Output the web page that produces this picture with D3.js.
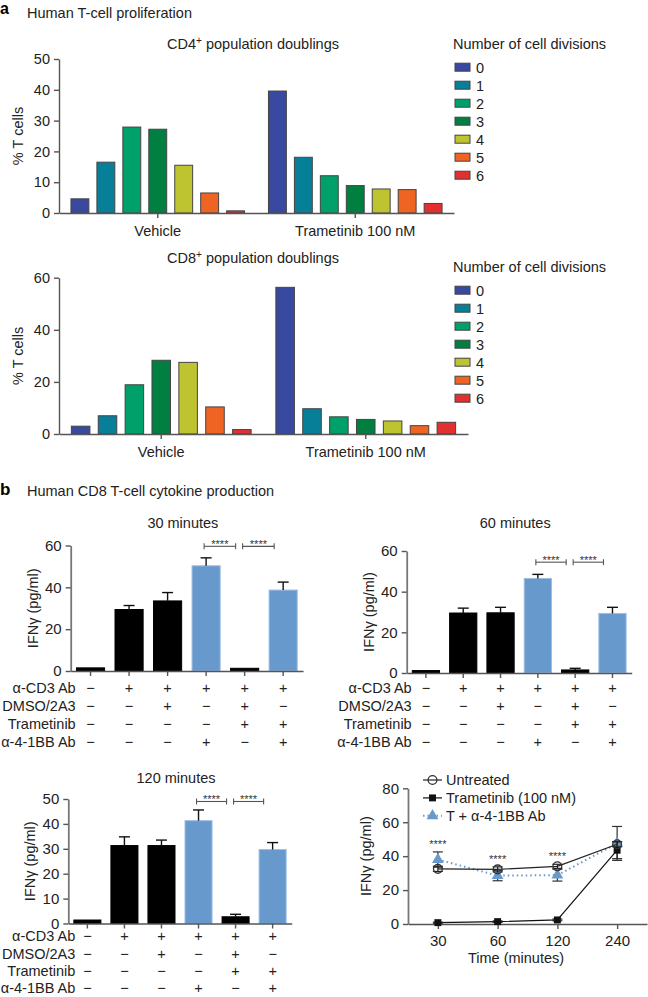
<!DOCTYPE html>
<html>
<head>
<meta charset="utf-8">
<script src="https://cdn.jsdelivr.net/npm/d3@7"></script>
<style>
body{margin:0;background:#fff}
svg{display:block;font-family:"Liberation Sans",Arial,sans-serif}
</style>
</head>
<body>
<svg id="fig" width="648" height="997"></svg>
<script>
// ---- panel a data ----
const divisions = ["0","1","2","3","4","5","6"]
const divColors = ["#3a49a0","#087f99","#00a06b","#007f40","#bec430","#ef6423","#e1302f"]
const treatments = ["Vehicle","Trametinib 100 nM"]
const cd4Vehicle = [4.6,16.5,27.9,27.2,15.5,6.5,0.7]
const cd4Trametinib = [39.6,18.1,12.1,8.9,7.8,7.6,3.1]
const cd8Vehicle = [3.0,7.0,18.9,28.3,27.5,10.4,1.7]
const cd8Trametinib = [56.3,9.7,6.6,5.6,5.0,3.2,4.5]

// ---- panel b data ----
const condRows = ["α-CD3 Ab","DMSO/2A3","Trametinib","α-4-1BB Ab"]
const condSigns = [
  ["−","+","+","+","+","+"],
  ["−","−","+","−","+","−"],
  ["−","−","−","−","+","+"],
  ["−","−","−","+","−","+"]
]
const barKind = ["k","k","k","b","k","b"]
const ifn30 = [1.5,29.4,33.5,50.3,1.3,38.7]
const ifn30Err = [0,1.9,4.0,3.8,0,3.8]
const ifn60 = [1.2,29.5,29.6,46.5,1.5,29.3]
const ifn60Err = [0,2.4,2.7,2.0,0.8,3.0]
const ifn120 = [1.4,31.3,31.3,41.3,2.7,29.7]
const ifn120Err = [0,3.5,2.2,4.3,1.0,2.8]

const timePoints = ["30","60","120","240"]
const untreated = [32.5,32.2,34.0,47.0]
const untreatedErr = [1.5,1.5,1.2,1.5]
const trametinibLine = [0.8,1.4,2.4,43.5]
const trametinibErr = [0.3,0.4,0.5,5.0]
const combo = [38.0,28.5,28.8,47.5]
const comboErr = [4.5,3.0,3.5,10.0]

const blue = "#6899cd"
const axisCol = "#555"
const svg = d3.select("#fig")

function styleAxis(g, fs){
  g.attr("font-family", null).attr("font-size", fs)
  g.select(".domain").attr("stroke", axisCol).attr("stroke-width", 1.4)
  g.selectAll(".tick line").attr("stroke", axisCol).attr("stroke-width", 1.4)
  g.selectAll(".tick text").attr("fill", "#222")
}

function titleSup(x, y, pre, sup, post, fs){
  const t = svg.append("text").attr("x", x).attr("y", y).attr("text-anchor","middle")
    .attr("font-size", fs).attr("fill","#222")
  t.append("tspan").text(pre)
  t.append("tspan").attr("dy", -5).attr("font-size", fs*0.7).text(sup)
  t.append("tspan").attr("dy", 5).text(post)
}

// ---------- proliferation charts ----------
function drawProliferation(o){
  const y = d3.scaleLinear().domain([0, o.ymax]).range([o.y0, o.yTop])
  const x = d3.scaleBand().domain(treatments).range([o.x0, o.x1]).paddingInner(0.1).paddingOuter(0.05)
  const xi = d3.scaleBand().domain(divisions).range([0, x.bandwidth()]).paddingInner(0.31).paddingOuter(0.08)

  const groups = [o.vehicle, o.trametinib]
  groups.forEach(function(vals, gi){
    svg.append("g").selectAll("rect")
      .data(vals)
      .enter().append("rect")
      .attr("x", (d,i) => x(treatments[gi]) + xi(divisions[i]))
      .attr("y", d => y(d))
      .attr("width", xi.bandwidth())
      .attr("height", d => o.y0 - y(d))
      .attr("fill", (d,i) => divColors[i])
      .attr("stroke", "#444").attr("stroke-width", 1)
  })

  const ya = svg.append("g").attr("transform","translate(" + o.x0 + ",0)")
    .call(d3.axisLeft(y).tickValues(d3.range(0, o.ymax + 1, o.step)).tickSize(5).tickSizeOuter(0).tickPadding(4))
  styleAxis(ya, 14.5)

  const xa = svg.append("g").attr("transform","translate(0," + o.y0 + ")")
    .call(d3.axisBottom(x).tickSize(5).tickSizeOuter(0).tickFormat(""))
  styleAxis(xa, 14.5)
  treatments.forEach(function(t){
    svg.append("text").attr("x", x(t) + x.bandwidth()/2).attr("y", o.y0 + 22.5)
      .attr("text-anchor","middle").attr("font-size",14.5).attr("fill","#222").text(t)
  })

  svg.append("text")
    .attr("transform","translate(23," + ((o.y0 + o.yTop)/2) + ") rotate(-90)")
    .attr("text-anchor","middle").attr("font-size",14.5).attr("fill","#222").text("% T cells")

  titleSup(253, o.titleY, o.pre, "+", " population doublings", 14.5)

  // legend
  svg.append("text").attr("x", 453).attr("y", o.legendY).attr("font-size",14.5).attr("fill","#222")
    .text("Number of cell divisions")
  const lg = svg.append("g").selectAll("g").data(divisions).enter().append("g")
    .attr("transform", (d,i) => "translate(455," + (o.legendY + 18.2 + i*18) + ")")
  lg.append("rect").attr("x",0).attr("y",-4).attr("width",15).attr("height",8)
    .attr("fill", (d,i) => divColors[i]).attr("stroke","#444").attr("stroke-width",1)
  lg.append("text").attr("x",21).attr("y",5.5).attr("font-size",14.5).attr("fill","#222").text(d => d)
}

// ---------- cytokine bar charts ----------
function drawCytokine(o){
  const y = d3.scaleLinear().domain([0, o.ymax]).range([o.y0, o.yTop])
  const x = d3.scaleBand().domain(d3.range(6)).range([o.ax, o.x1]).paddingInner(0.27).paddingOuter(0.15)
  const cx = i => x(i) + x.bandwidth()/2

  svg.append("g").selectAll("rect")
    .data(o.vals)
    .enter().append("rect")
    .attr("x", (d,i) => x(i))
    .attr("y", d => y(d))
    .attr("width", x.bandwidth())
    .attr("height", d => o.y0 - y(d))
    .attr("fill", (d,i) => barKind[i] == "k" ? "#000" : blue)
    .attr("stroke", (d,i) => barKind[i] == "k" ? "#000" : "#9dbde2")
    .attr("stroke-width", 1)

  // error bars (upper only)
  o.vals.forEach(function(v, i){
    if (o.errs[i] <= 0) return
    const e = svg.append("g").attr("stroke", "#111").attr("stroke-width", 1.4)
    e.append("line").attr("x1", cx(i)).attr("x2", cx(i)).attr("y1", y(v)).attr("y2", y(v + o.errs[i]))
    e.append("line").attr("x1", cx(i) - 5.5).attr("x2", cx(i) + 5.5).attr("y1", y(v + o.errs[i])).attr("y2", y(v + o.errs[i]))
  })

  const ya = svg.append("g").attr("transform","translate(" + o.ax + ",0)")
    .call(d3.axisLeft(y).tickValues(d3.range(0, o.ymax + 1, o.step)).tickSize(5).tickSizeOuter(0).tickPadding(4))
  styleAxis(ya, 15)
  ya.select(".domain").attr("stroke","#777").attr("stroke-width",1.8)
  const xa = svg.append("g").attr("transform","translate(0," + o.y0 + ")")
    .call(d3.axisBottom(x).tickSize(5).tickSizeOuter(0).tickFormat(""))
  styleAxis(xa, 14)

  // significance brackets
  ;[[3,4],[4,5]].forEach(function(p){
    const x1 = cx(p[0]) - 2, x2 = cx(p[1]) - 9, yy = y(o.sig)
    const b = svg.append("g").attr("stroke","#555").attr("stroke-width",1.1)
    b.append("line").attr("x1",x1).attr("x2",x2).attr("y1",yy).attr("y2",yy)
    b.append("line").attr("x1",x1).attr("x2",x1).attr("y1",yy-3).attr("y2",yy+3)
    b.append("line").attr("x1",x2).attr("x2",x2).attr("y1",yy-3).attr("y2",yy+3)
    svg.append("text").attr("x",(x1+x2)/2).attr("y",yy+1.5).attr("text-anchor","middle")
      .attr("font-size",11).attr("fill","#333").text("****")
  })

  svg.append("text").attr("x", (o.ax + o.x1)/2 - 4).attr("y", o.titleY).attr("text-anchor","middle")
    .attr("font-size",14.5).attr("fill","#222").text(o.title)

  svg.append("text")
    .attr("transform","translate(" + (o.ax - 33) + "," + ((o.y0 + o.yTop)/2) + ") rotate(-90)")
    .attr("text-anchor","middle").attr("font-size",14.5).attr("fill","#222").text("IFNγ (pg/ml)")

  condRows.forEach(function(r, ri){
    const yy = o.y0 + o.rowOff + ri*o.rowGap
    svg.append("text").attr("x", o.ax + o.labRight).attr("y", yy).attr("text-anchor","end")
      .attr("font-size",14.5).attr("fill","#222").text(r)
    condSigns[ri].forEach(function(s, i){
      svg.append("text").attr("x", cx(i)).attr("y", yy).attr("text-anchor","middle")
        .attr("font-size",14.5).attr("fill","#222").text(s)
    })
  })
}

// ---------- time course ----------
function drawTimeCourse(){
  const ax = 408, x1 = 647, y0 = 924, yTop = 788.3
  const x = d3.scalePoint().domain(timePoints).range([ax, x1]).padding(0.5)
  const y = d3.scaleLinear().domain([0, 80]).range([y0, yTop])

  const ya = svg.append("g").attr("transform","translate(" + ax + ",0)")
    .call(d3.axisLeft(y).tickValues([0,20,40,60,80]).tickSize(5).tickSizeOuter(0).tickPadding(4))
  styleAxis(ya, 15)
  ya.select(".domain").attr("stroke","#777").attr("stroke-width",1.8)
  const xa = svg.append("g").attr("transform","translate(0," + y0 + ")")
    .call(d3.axisBottom(x).tickSize(5).tickSizeOuter(0).tickPadding(6))
  styleAxis(xa, 15)

  svg.append("text").attr("x",516).attr("y",963).attr("text-anchor","middle")
    .attr("font-size",14.5).attr("fill","#222").text("Time (minutes)")
  svg.append("text")
    .attr("transform","translate(" + (ax - 37) + "," + ((y0 + yTop)/2) + ") rotate(-90)")
    .attr("text-anchor","middle").attr("font-size",14.5).attr("fill","#222").text("IFNγ (pg/ml)")

  const series = [
    {vals: combo, errs: comboErr, col: blue, dash: "1.5,3", mark: "tri"},
    {vals: trametinibLine, errs: trametinibErr, col: "#111", dash: null, mark: "sq"},
    {vals: untreated, errs: untreatedErr, col: "#222", dash: null, mark: "circ"}
  ]
  const line = d3.line().x((d,i) => x(timePoints[i])).y(d => y(d))

  series.forEach(function(s){
    svg.append("path").datum(s.vals).attr("d", line).attr("fill","none")
      .attr("stroke", s.col).attr("stroke-width", s.dash ? 2 : 1.2)
      .attr("stroke-dasharray", s.dash)
    s.vals.forEach(function(v, i){
      const px = x(timePoints[i])
      const e = svg.append("g").attr("stroke", s.mark == "tri" ? "#333" : "#222").attr("stroke-width",1.2)
      e.append("line").attr("x1",px).attr("x2",px).attr("y1",y(v - s.errs[i])).attr("y2",y(v + s.errs[i]))
      ;[v - s.errs[i], v + s.errs[i]].forEach(function(ev){
        e.append("line").attr("x1",px-5).attr("x2",px+5).attr("y1",y(ev)).attr("y2",y(ev))
      })
    })
    svg.append("g").selectAll("path").data(s.vals).enter().append("path")
      .attr("transform",(d,i) => "translate(" + x(timePoints[i]) + "," + y(d) + ")")
      .attr("d", markPath(s.mark))
      .attr("fill", s.mark == "circ" ? "none" : s.col)
      .attr("stroke", s.mark == "circ" ? "#333" : "none").attr("stroke-width",1.3)
  })

  // stars above the first three time points
  timePoints.slice(0,3).forEach(function(t, i){
    const top = d3.max(series, s => s.vals[i] + s.errs[i])
    svg.append("text").attr("x", x(t)).attr("y", y(top) - 4).attr("text-anchor","middle")
      .attr("font-size",11).attr("fill","#333").text("****")
  })

  // legend
  const names = ["Untreated","Trametinib (100 nM)","T + α-4-1BB Ab"]
  const order = [2,1,0]
  names.forEach(function(n, k){
    const s = series[order[k]], yy = 780 + k*17.9
    svg.append("line").attr("x1",423).attr("x2",442).attr("y1",yy).attr("y2",yy)
      .attr("stroke", s.col).attr("stroke-width", s.dash ? 2 : 1.2).attr("stroke-dasharray", s.dash)
    svg.append("path").attr("transform","translate(432.5," + yy + ")").attr("d", markPath(s.mark))
      .attr("fill", s.mark == "circ" ? "none" : s.col)
      .attr("stroke", s.mark == "circ" ? "#333" : "none").attr("stroke-width",1.3)
    svg.append("text").attr("x",446).attr("y",yy+5.3).attr("font-size",14.5).attr("fill","#222").text(n)
  })
}

function markPath(m){
  if (m == "circ") return d3.symbol(d3.symbolCircle, 60)()
  if (m == "sq") return d3.symbol(d3.symbolSquare, 48)()
  return d3.symbol(d3.symbolTriangle, 60)()
}

// ---------- headings ----------
svg.append("text").attr("x",0).attr("y",14).attr("font-size",16).attr("font-weight","bold").text("a")
svg.append("text").attr("x",27).attr("y",18).attr("font-size",14.5).attr("fill","#222").text("Human T-cell proliferation")
svg.append("text").attr("x",0).attr("y",495).attr("font-size",17).attr("font-weight","bold").text("b")
svg.append("text").attr("x",27).attr("y",496).attr("font-size",14.5).attr("fill","#222").text("Human CD8 T-cell cytokine production")

drawProliferation({x0:59, x1:454, y0:213, yTop:59, ymax:50, step:10,
  vehicle:cd4Vehicle, trametinib:cd4Trametinib, pre:"CD4", titleY:49.3, legendY:49})
drawProliferation({x0:59, x1:468, y0:434, yTop:277.7, ymax:60, step:20,
  vehicle:cd8Vehicle, trametinib:cd8Trametinib, pre:"CD8", titleY:263.3, legendY:272})

drawCytokine({ax:70.7, x1:303, y0:671, yTop:545.5, ymax:60, step:20, vals:ifn30, errs:ifn30Err,
  sig:59.6, title:"30 minutes", titleY:527.7, rowOff:21.7, rowGap:18.2, labRight:5})
drawCytokine({ax:406.7, x1:631.7, y0:673, yTop:551, ymax:60, step:20, vals:ifn60, errs:ifn60Err,
  sig:54.5, title:"60 minutes", titleY:527.7, rowOff:19.7, rowGap:18.2, labRight:5})
drawCytokine({ax:68.3, x1:291.7, y0:923.5, yTop:799, ymax:50, step:10, vals:ifn120, errs:ifn120Err,
  sig:49, title:"120 minutes", titleY:783.3, rowOff:17.6, rowGap:17.4, labRight:7})

drawTimeCourse()
</script>
</body>
</html>
